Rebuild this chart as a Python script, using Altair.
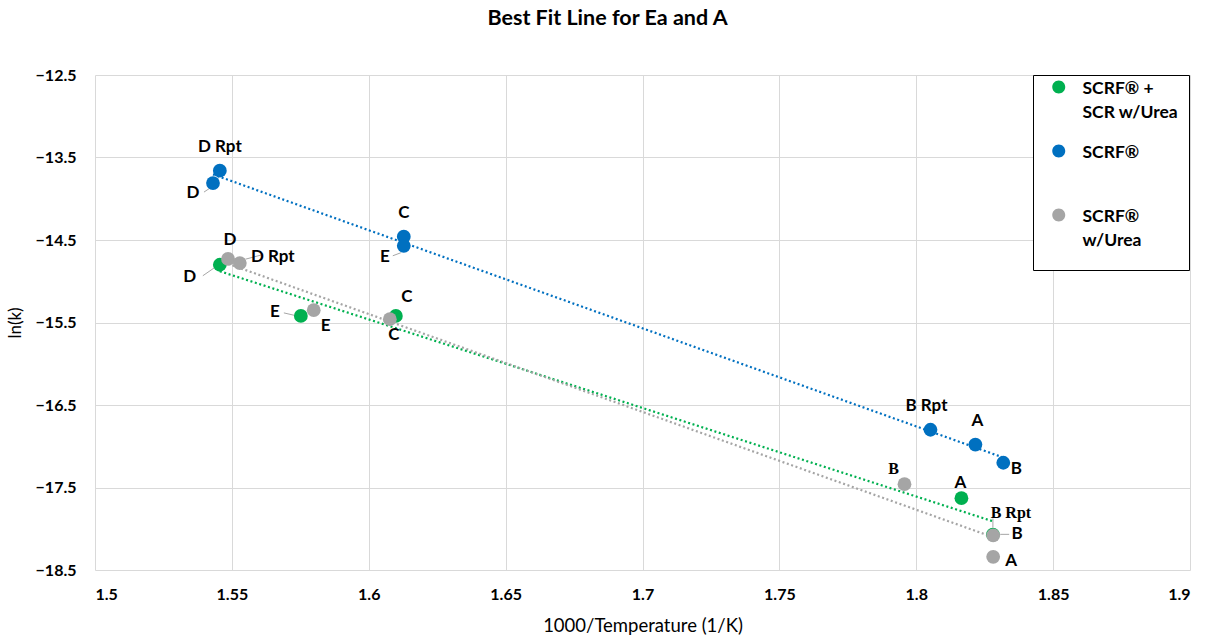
import altair as alt
import pandas as pd

# ---- data -----------------------------------------------------------------
series_names = ["SCRF® + SCR w/Urea", "SCRF®", "SCRF® w/Urea"]
series_colors = ["#00B050", "#0070C0", "#A5A5A5"]

green_labels = ["D", "E", "C", "A", "B Rpt"]
green_x = [1.5456, 1.5752, 1.6099, 1.8165, 1.8280]
green_y = [-14.80, -15.42, -15.42, -17.63, -18.07]

blue_labels = ["D Rpt", "D", "C", "E", "B Rpt", "A", "B"]
blue_x = [1.5456, 1.5431, 1.6128, 1.6128, 1.8052, 1.8216, 1.8318]
blue_y = [-13.66, -13.81, -14.46, -14.57, -16.80, -16.98, -17.20]

gray_labels = ["D", "D Rpt", "E", "C", "B", "B", "A"]
gray_x = [1.5486, 1.5529, 1.5799, 1.6077, 1.7957, 1.8281, 1.8281]
gray_y = [-14.73, -14.78, -15.35, -15.46, -17.46, -18.08, -18.34]

x_ticks = [1.5, 1.55, 1.6, 1.65, 1.7, 1.75, 1.8, 1.85, 1.9]
y_ticks = [-12.5, -13.5, -14.5, -15.5, -16.5, -17.5, -18.5]

# ---- table ----------------------------------------------------------------
rows = []
for s, (labs, xs, ys) in enumerate([
    (green_labels, green_x, green_y),
    (blue_labels, blue_x, blue_y),
    (gray_labels, gray_x, gray_y),
]):
    for i, (lab, xv, yv) in enumerate(zip(labs, xs, ys)):
        rows.append({"series": series_names[s], "key": f"{s}-{i}",
                     "label": lab, "x": xv, "y": yv})
df = pd.DataFrame(rows)

# label placement (pixel offsets from the marker) and font
label_style = {
    "0-0": (-30, 12, "sans"), "0-1": (-26, -4, "sans"), "0-2": (11, -19, "sans"),
    "0-3": (-1, -15, "sans"), "0-4": (18, -22, "serif"),
    "1-0": (0, -24, "sans"), "1-1": (-20, 10, "sans"), "1-2": (0, -24, "sans"),
    "1-3": (-19, 11, "sans"), "1-4": (-4, -24, "sans"), "1-5": (2, -24, "sans"),
    "1-6": (13, 6, "sans"),
    "2-0": (2, -19, "sans"), "2-1": (33, -6, "sans"), "2-2": (12, 16, "sans"),
    "2-3": (4, 16, "sans"), "2-4": (-11, -15, "serif"), "2-5": (24, -1, "sans"),
    "2-6": (18, 4, "sans"),
}
# leader lines: (x1, y1, x2, y2) pixel offsets from the marker
leaders = {
    "1-1": (-9, 9, -3, 5), "1-3": (-11, 10, -3, 7),
    "0-0": (-17, 11, -4, 2), "0-1": (-17, -3, -4, 0),
    "2-1": (6, -4, 21, -8), "2-5": (7, -1, 16, -1),
    "0-4": (0, -7, 0, -16),
}

FONT = "Lato"
x_scale = alt.Scale(domain=[1.5, 1.9], nice=False, zero=False)
y_scale = alt.Scale(domain=[-18.5, -12.5], nice=False, zero=False)
color_scale = alt.Scale(domain=series_names, range=series_colors)

base = alt.Chart(df)
X = alt.X("x:Q", scale=x_scale, axis=alt.Axis(
    values=x_ticks, format=".2~f", grid=True, gridColor="#D9D9D9",
    domain=False, ticks=False, labelFont=FONT, labelFontSize=16,
    labelFontWeight="bold", labelColor="black", labelPadding=16,
    title="1000/Temperature (1/K)", titleFont=FONT, titleFontSize=18.5,
    titleFontWeight="normal", titleColor="black", titlePadding=14))
Y = alt.Y("y:Q", scale=y_scale, axis=alt.Axis(
    values=y_ticks, format=".1f", grid=True, gridColor="#D9D9D9",
    domain=False, ticks=False, labelFont=FONT, labelFontSize=16,
    labelFontWeight="bold", labelColor="black", labelPadding=19,
    title="ln(k)", titleFont=FONT, titleFontSize=17,
    titleFontWeight="normal", titleColor="black", titlePadding=11))

layers = []

# dotted least-squares trend line for each series
for name, col in zip(series_names, series_colors):
    layers.append(
        base.transform_filter(alt.datum.series == name)
        .transform_regression("x", "y")
        .mark_line(color=col, strokeWidth=2.2, strokeDash=[2, 2.6])
        .encode(x=alt.X("x:Q", scale=x_scale), y=alt.Y("y:Q", scale=y_scale))
    )

# leader lines
for key, (x1, y1, x2, y2) in leaders.items():
    layers.append(
        base.transform_filter(alt.datum.key == key)
        .mark_rule(color="#A6A6A6", strokeWidth=1,
                   xOffset=x1, yOffset=y1, x2Offset=x2, y2Offset=y2)
        .encode(x="x:Q", y="y:Q", x2="x:Q", y2="y:Q")
    )

# legend marker: a circle raised to sit beside the first text line; the two
# zero-length sub-paths only widen each entry's vertical extent
legend_circle = ("M0,-3.42L0,-3.42M0,5.84L0,5.84"
                 "M-1,-1.05A1,1,0,1,1,1,-1.05A1,1,0,1,1,-1,-1.05Z")
# two-line legend entries: break the longer names onto a second line
label_expr = (
    "indexof(datum.label, 'SCR w') >= 0 ? ['SCRF® +', 'SCR w/Urea'] : "
    "indexof(datum.label, 'w/Urea') >= 0 ? ['SCRF®', 'w/Urea'] : "
    "[datum.label, ' ']"
)

points = base.mark_circle(size=190, opacity=1).encode(
    x=X, y=Y,
    color=alt.Color("series:N", scale=color_scale, legend=alt.Legend(
        title=None, orient="none", legendX=938, legendY=0,
        strokeColor="black", fillColor="white", padding=10,
        symbolType=legend_circle, symbolSize=169, symbolOffset=7,
        labelOffset=15, labelFont=FONT, labelFontSize=17.5,
        labelFontWeight="bold", labelColor="black", labelLimit=300,
        labelExpr=label_expr,
        labelBaseline="alphabetic", rowPadding=3)),
)
layers.append(points)

# point labels
for key, (dx, dy, face) in label_style.items():
    font = FONT if face == "sans" else "Liberation Serif"
    layers.append(
        base.transform_filter(alt.datum.key == key)
        .mark_text(dx=dx, dy=dy, font=font, fontSize=17 if face == "sans" else 16,
                   fontWeight="bold", color="black", baseline="middle",
                   align="center")
        .encode(x="x:Q", y="y:Q", text="label:N")
    )

chart = alt.layer(*layers).properties(
    width=1095, height=495,
    title=alt.TitleParams("Best Fit Line for Ea and A", font=FONT, fontSize=21.5,
                          fontWeight="bold", color="black", anchor="middle",
                          frame="group", dx=-35, offset=38),
    autosize=alt.AutoSizeParams(type="none"),
    padding={"left": 95, "top": 75, "right": 20, "bottom": 67},
).configure(
    style={"guide-label": {"lineHeight": 24}}
).configure_view(stroke=None)

chart.save("out.html", embed_options={"renderer": "svg", "actions": False})
